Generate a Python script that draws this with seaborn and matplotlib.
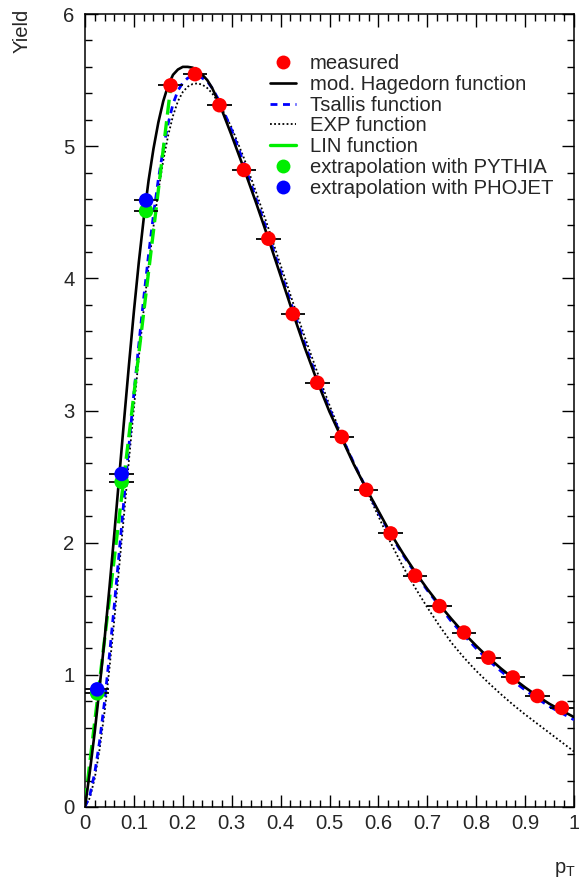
import numpy as np
import pandas as pd
import seaborn as sns
import matplotlib
matplotlib.use("Agg")
import matplotlib.pyplot as plt
from matplotlib.ticker import MultipleLocator, FuncFormatter
from matplotlib.lines import Line2D

# ---------------- data ----------------
meas_pt = [0.175, 0.225, 0.275, 0.325, 0.375, 0.425, 0.475, 0.525, 0.575,
           0.625, 0.675, 0.725, 0.775, 0.825, 0.875, 0.925, 0.975]
meas_y = [5.46, 5.545, 5.31, 4.82, 4.30, 3.73, 3.21, 2.80, 2.40,
          2.07, 1.75, 1.52, 1.32, 1.13, 0.98, 0.84, 0.75]

extra_pt = [0.025, 0.075, 0.125]
pythia_y = [0.86, 2.46, 4.51]
phojet_y = [0.89, 2.52, 4.59]
bin_halfwidth = 0.025

curve_pt = [0.000, 0.010, 0.020, 0.030, 0.040, 0.050, 0.060, 0.070, 0.080, 0.090,
            0.100, 0.110, 0.120, 0.130, 0.140, 0.150, 0.160, 0.170, 0.180, 0.190,
            0.200, 0.210, 0.220, 0.230, 0.240, 0.250, 0.260, 0.275, 0.300, 0.325,
            0.350, 0.375, 0.400, 0.425, 0.450, 0.475, 0.500, 0.525, 0.550, 0.575,
            0.600, 0.625, 0.650, 0.675, 0.700, 0.725, 0.750, 0.775, 0.800, 0.825,
            0.850, 0.875, 0.900, 0.925, 0.950, 0.975, 1.000]
hagedorn_y = [0.00, 0.27, 0.57, 0.91, 1.27, 1.66, 2.07, 2.50, 2.93, 3.35,
              3.75, 4.12, 4.45, 4.74, 4.98, 5.18, 5.34, 5.46, 5.54, 5.58,
              5.60, 5.60, 5.594, 5.575, 5.54, 5.50, 5.44, 5.32, 5.08, 4.83,
              4.57, 4.30, 4.02, 3.74, 3.47, 3.22, 2.99, 2.79, 2.59, 2.41,
              2.24, 2.07, 1.92, 1.78, 1.65, 1.53, 1.42, 1.315, 1.22, 1.13,
              1.05, 0.975, 0.905, 0.84, 0.78, 0.73, 0.68]
tsallis_y = [0.00, 0.09, 0.26, 0.50, 0.80, 1.15, 1.53, 1.93, 2.34, 2.74,
             3.13, 3.50, 3.85, 4.18, 4.48, 4.75, 4.98, 5.17, 5.32, 5.42,
             5.48, 5.515, 5.53, 5.53, 5.515, 5.49, 5.44, 5.34, 5.12, 4.87,
             4.60, 4.33, 4.05, 3.77, 3.50, 3.24, 3.01, 2.80, 2.60, 2.41,
             2.23, 2.06, 1.91, 1.77, 1.64, 1.52, 1.40, 1.30, 1.20, 1.11,
             1.03, 0.955, 0.885, 0.82, 0.76, 0.71, 0.66]
exp_y = [0.00, 0.07, 0.22, 0.44, 0.72, 1.05, 1.42, 1.82, 2.22, 2.63,
         3.02, 3.40, 3.76, 4.09, 4.39, 4.66, 4.89, 5.08, 5.23, 5.34,
         5.41, 5.45, 5.47, 5.475, 5.465, 5.44, 5.40, 5.32, 5.14, 4.91,
         4.65, 4.38, 4.10, 3.82, 3.55, 3.29, 3.04, 2.81, 2.60, 2.40,
         2.20, 2.00, 1.82, 1.66, 1.51, 1.37, 1.24, 1.13, 1.03, 0.94,
         0.855, 0.775, 0.70, 0.63, 0.56, 0.49, 0.42]
lin_pt = [0.0, 0.175]
lin_y = [0.03, 5.44]

labels = ["measured", "mod. Hagedorn function", "Tsallis function",
          "EXP function", "LIN function", "extrapolation with PYTHIA",
          "extrapolation with PHOJET"]
x_label = r"$\mathrm{p_{T}}$"
y_label = "Yield"

# ---------------- style ----------------
sns.set_theme(style="ticks")
plt.rcParams["font.family"] = ["Liberation Sans", "DejaVu Sans"]
plt.rcParams["mathtext.fontset"] = "custom"
plt.rcParams["mathtext.rm"] = "Liberation Sans"
plt.rcParams["mathtext.it"] = "Liberation Sans:italic"
FS = 14.6

W, H = 579, 882
fig = plt.figure(figsize=(W / 100, H / 100), dpi=100)
ax = fig.add_axes([85 / W, 1 - 807 / H, (574 - 85) / W, (807 - 14) / H])

RED = "#ff0000"
BLUE = "#0000ff"
GREEN = "#00ee00"

sns.lineplot(x=curve_pt, y=exp_y, ax=ax, color="black", lw=1.3,
             linestyle=(0, (1.0, 1.3)), errorbar=None, zorder=3)
sns.lineplot(x=curve_pt, y=tsallis_y, ax=ax, color=BLUE, lw=2.0,
             linestyle=(0, (2.5, 2.0)), errorbar=None, zorder=4)
sns.lineplot(x=lin_pt, y=lin_y, ax=ax, color=GREEN, lw=2.4,
             linestyle=(0, (4.5, 2.0)), errorbar=None, zorder=4.5)
sns.lineplot(x=curve_pt, y=hagedorn_y, ax=ax, color="black", lw=1.9,
             errorbar=None, zorder=5)

ax.errorbar(meas_pt, meas_y, xerr=bin_halfwidth, fmt="none", ecolor="black",
            elinewidth=1.3, capsize=0, zorder=6)
ax.errorbar(extra_pt, pythia_y, xerr=bin_halfwidth, fmt="none", ecolor="black",
            elinewidth=1.3, capsize=0, zorder=6)
ax.errorbar(extra_pt, phojet_y, xerr=bin_halfwidth, fmt="none", ecolor="black",
            elinewidth=1.3, capsize=0, zorder=6)

MS = 110
sns.scatterplot(x=meas_pt, y=meas_y, ax=ax, color=RED, s=MS, edgecolor="none",
                zorder=7)
sns.scatterplot(x=extra_pt, y=pythia_y, ax=ax, color=GREEN, s=MS,
                edgecolor="none", zorder=7)
sns.scatterplot(x=extra_pt, y=phojet_y, ax=ax, color=BLUE, s=MS,
                edgecolor="none", zorder=8)

ax.set_xlim(0, 1)
ax.set_ylim(0, 6)
ax.set_xlabel("")
ax.set_ylabel("")
ax.xaxis.set_major_locator(MultipleLocator(0.1))
ax.xaxis.set_minor_locator(MultipleLocator(0.02))
ax.yaxis.set_major_locator(MultipleLocator(1))
ax.yaxis.set_minor_locator(MultipleLocator(0.2))
fmt = FuncFormatter(lambda v, p: f"{v:.10g}")
ax.xaxis.set_major_formatter(fmt)
ax.yaxis.set_major_formatter(fmt)
ax.tick_params(which="both", direction="in", top=True, right=True,
               width=1.0, color="black")
ax.tick_params(which="major", length=9)
ax.tick_params(which="minor", length=5)
ax.tick_params(axis="x", which="major", labelsize=FS, pad=5)
ax.tick_params(axis="y", which="major", labelsize=FS, pad=7.5)
for s in ax.spines.values():
    s.set_linewidth(1.1)
    s.set_color("black")
    s.set_visible(True)

fig.text(22 / W, 1 - 9 / H, y_label, rotation=90, ha="center", va="top",
         fontsize=FS)
fig.text(576 / W, 1 - 879 / H, x_label, ha="right", va="bottom", fontsize=FS)

handles = [
    Line2D([], [], ls="none", marker="o", ms=10, color=RED, mec="none"),
    Line2D([], [], color="black", lw=1.9),
    Line2D([], [], color=BLUE, lw=2.0, ls=(0, (2.5, 2.0))),
    Line2D([], [], color="black", lw=1.3, ls=(0, (1.0, 1.3))),
    Line2D([], [], color=GREEN, lw=2.4),
    Line2D([], [], ls="none", marker="o", ms=10, color=GREEN, mec="none"),
    Line2D([], [], ls="none", marker="o", ms=10, color=BLUE, mec="none"),
]
leg = ax.legend(handles, labels, loc="upper left",
                bbox_to_anchor=(270 / W, 1 - 54 / H),
                bbox_transform=fig.transFigure, frameon=False, fontsize=FS,
                handlelength=1.3, handletextpad=0.65, labelspacing=0.09,
                borderpad=0, borderaxespad=0)

fig.savefig("out.png", dpi=100)
